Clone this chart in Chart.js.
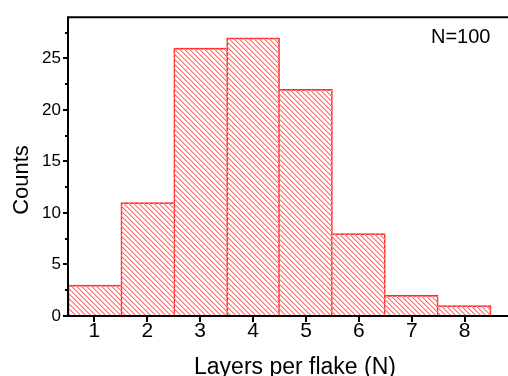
<!DOCTYPE html>
<html>
<head>
<meta charset="utf-8">
<script src="https://cdn.jsdelivr.net/npm/chart.js@4"></script>
<style>
  html, body { margin: 0; padding: 0; background: #fff; overflow: hidden; }
  #wrap { width: 508px; height: 376px; }
</style>
</head>
<body>
<div id="wrap"><canvas id="chartLayers" width="508" height="376"></canvas></div>
<script>
// layers per flake histogram
const layers = [1, 2, 3, 4, 5, 6, 7, 8];
const counts = [3, 11, 26, 27, 22, 8, 2, 1];
const xTicks = [1, 2, 3, 4, 5, 6, 7, 8];
const yTicks = [0, 5, 10, 15, 20, 25];
const yMinorTicks = [2.5, 7.5, 12.5, 17.5, 22.5, 27.5];
const sampleLabel = "N=100";

const fontName = "'Liberation Sans', Arial, sans-serif";

// hatch pattern for bars
const makeHatch = () => {
    const c = document.createElement("canvas");
    c.width = 5;
    c.height = 5;
    const g = c.getContext("2d");
    for (let i = 0; i < 5; i++) {
        g.fillStyle = "#ff6e6e";
        g.fillRect(i, i, 1, 1);
        g.fillStyle = "#ffb8b8";
        g.fillRect((i + 1) % 5, i, 1, 1);
    }
    return g.createPattern(c, "repeat");
};

// shared edge between two bars is drawn once, by the taller one
const edgeWidth = ctx => {
    const i = ctx.dataIndex;
    const last = counts.length - 1;
    return {
        top: 1,
        bottom: 0,
        left: (i === 0 || counts[i] >= counts[i - 1]) ? 1 : 0,
        right: (i === last || counts[i] > counts[i + 1]) ? 1 : 0
    };
};

// frame, ticks and titles
const framePlugin = {
    id: "frame",
    afterDraw(chart) {
        const ctx = chart.ctx;
        const area = chart.chartArea;
        const xs = chart.scales.x;
        const ys = chart.scales.y;
        ctx.save();
        ctx.strokeStyle = "#000";
        ctx.lineWidth = 2;
        ctx.beginPath();
        ctx.moveTo(area.left, area.top);
        ctx.lineTo(area.right, area.top);
        ctx.moveTo(area.left, area.top - 1);
        ctx.lineTo(area.left, area.bottom + 1);
        ctx.moveTo(area.left - 1, area.bottom);
        ctx.lineTo(area.right, area.bottom);
        yTicks.forEach(v => {
            const y = Math.round(ys.getPixelForValue(v));
            ctx.moveTo(area.left - 5, y);
            ctx.lineTo(area.left, y);
        });
        yMinorTicks.forEach(v => {
            const y = Math.round(ys.getPixelForValue(v));
            ctx.moveTo(area.left - 3, y);
            ctx.lineTo(area.left, y);
        });
        xTicks.forEach(v => {
            const x = Math.round(xs.getPixelForValue(v));
            ctx.moveTo(x, area.bottom);
            ctx.lineTo(x, area.bottom + 6);
        });
        ctx.stroke();

        ctx.fillStyle = "#000";
        ctx.font = "20px " + fontName;
        ctx.textAlign = "left";
        ctx.textBaseline = "alphabetic";
        ctx.fillText(sampleLabel, 431, 43);

        ctx.font = "23px " + fontName;
        ctx.textAlign = "center";
        ctx.fillText("Layers per flake (N)", 295, 374);

        ctx.translate(28, 180);
        ctx.rotate(-Math.PI / 2);
        ctx.font = "22px " + fontName;
        ctx.fillText("Counts", 0, 0);
        ctx.restore();
    }
};

const chartLayers = new Chart(document.getElementById("chartLayers"), {
    type: "bar",
    data: {
        datasets: [
            {
                label: "Counts",
                data: layers.map((n, i) => ({ x: n, y: counts[i] })),
                backgroundColor: makeHatch(),
                borderColor: "#ff2a2a",
                borderWidth: edgeWidth,
                borderSkipped: false,
                barPercentage: 1,
                categoryPercentage: 1
            }
        ]
    },
    options: {
        responsive: false,
        animation: false,
        layout: { padding: { top: 14, right: 0, left: 0, bottom: 0 } },
        plugins: {
            legend: { display: false },
            tooltip: { enabled: false }
        },
        scales: {
            x: {
                type: "linear",
                min: 0.5,
                max: 8.82,
                offset: false,
                afterBuildTicks: scale => { scale.ticks = xTicks.map(v => ({ value: v })); },
                afterFit: scale => { scale.height = 60; },
                grid: { display: false, drawTicks: false, offset: false },
                border: { display: false },
                ticks: {
                    color: "#000",
                    padding: 3,
                    maxRotation: 0,
                    font: { family: fontName, size: 21 }
                }
            },
            y: {
                min: 0,
                max: 29,
                afterBuildTicks: scale => { scale.ticks = yTicks.map(v => ({ value: v })); },
                afterFit: scale => { scale.width = 68; },
                grid: { display: false, drawTicks: false },
                border: { display: false },
                ticks: {
                    color: "#000",
                    padding: 7,
                    font: { family: fontName, size: 17 }
                }
            }
        }
    },
    plugins: [framePlugin]
});
</script>
</body>
</html>
